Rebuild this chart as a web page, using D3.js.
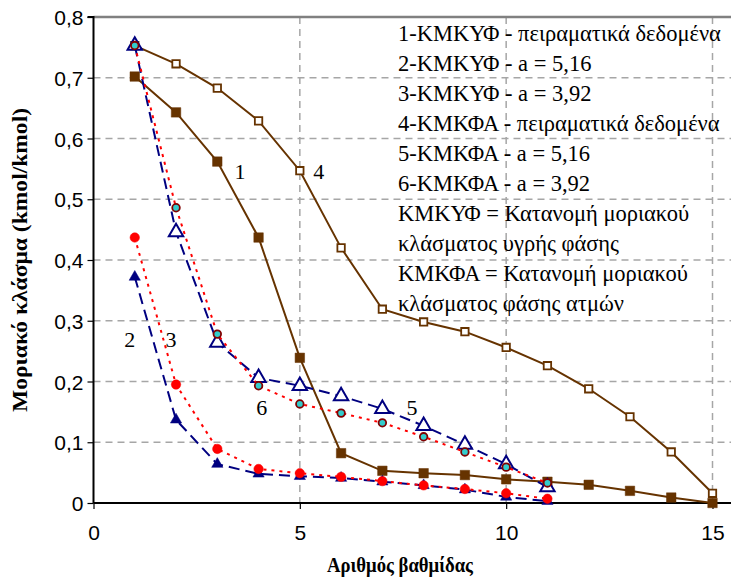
<!DOCTYPE html>
<html><head><meta charset="utf-8">
<script src="https://cdn.jsdelivr.net/npm/d3@7"></script>
<style>body{margin:0;background:#fff}</style>
</head><body>
<svg id="c" width="731" height="580"></svg>
<script>
const stages = [1,2,3,4,5,6,7,8,9,10,11,12,13,14,15];
const stages11 = [1,2,3,4,5,6,7,8,9,10,11];
const s1 = [0.702,0.643,0.562,0.437,0.239,0.082,0.053,0.049,0.046,0.039,0.035,0.030,0.020,0.009,0.000];
const s4 = [0.753,0.723,0.683,0.629,0.547,0.420,0.319,0.298,0.282,0.256,0.226,0.188,0.142,0.084,0.016];
const s2 = [0.372,0.137,0.064,0.048,0.044,0.041,0.035,0.029,0.022,0.010,0.003];
const s3 = [0.437,0.195,0.089,0.056,0.049,0.043,0.036,0.029,0.023,0.016,0.007];
const s5 = [0.753,0.446,0.264,0.206,0.193,0.176,0.155,0.127,0.096,0.064,0.026];
const s6 = [0.753,0.486,0.278,0.193,0.163,0.148,0.132,0.109,0.084,0.059,0.033];
const xTicks = [0,5,10,15];
const yTicks = [0,0.1,0.2,0.3,0.4,0.5,0.6,0.7,0.8];
const legendLines = [
 "1-ΚΜΚΥΦ - πειραματικά δεδομένα",
 "2-ΚΜΚΥΦ - a = 5,16",
 "3-ΚΜΚΥΦ - a = 3,92",
 "4-ΚΜΚΦΑ - πειραματικά δεδομένα",
 "5-ΚΜΚΦΑ - a = 5,16",
 "6-ΚΜΚΦΑ - a = 3,92",
 "ΚΜΚΥΦ = Κατανομή μοριακού",
 "κλάσματος υγρής φάσης",
 "ΚΜΚΦΑ = Κατανομή μοριακού",
 "κλάσματος φάσης ατμών"];
const curveLabels = [
 {t:"1", x:3.55, y:0.533},
 {t:"4", x:5.46, y:0.533},
 {t:"2", x:0.88, y:0.257},
 {t:"3", x:1.88, y:0.257},
 {t:"6", x:4.08, y:0.145},
 {t:"5", x:7.72, y:0.145}];

const svg = d3.select("#c");
const x = d3.scaleLinear().domain([0,15]).range([93.5,712.5]);
const y = d3.scaleLinear().domain([0,0.8]).range([503,17]);
const right = 731;
const serif = "'Liberation Serif','Times New Roman',serif";

// gridlines
const g = svg.append("g");
g.selectAll("line.hy").data(yTicks.filter(v=>v>0 && v<0.8)).join("line")
 .attr("x1",x(0)).attr("x2",right).attr("y1",d=>y(d)).attr("y2",d=>y(d))
 .attr("stroke","#a6a6a6").attr("stroke-width",1.5).attr("stroke-dasharray","7,5");
g.selectAll("line.vx").data(xTicks.filter(v=>v>0)).join("line")
 .attr("y1",y(0.8)).attr("y2",y(0)).attr("x1",d=>x(d)).attr("x2",d=>x(d))
 .attr("stroke","#a6a6a6").attr("stroke-width",1.5).attr("stroke-dasharray","7,5");
// top border
svg.append("line").attr("x1",x(0)).attr("x2",right).attr("y1",y(0.8)).attr("y2",y(0.8))
 .attr("stroke","#808080").attr("stroke-width",2.5);

// legend text
svg.append("g").selectAll("text").data(legendLines).join("text")
 .attr("x",398).attr("y",(d,i)=>40.5+i*30.1)
 .attr("font-family",serif).attr("font-size",22.5)
 .attr("fill","#000").text(d=>d);

// axes
const yAxis = d3.axisLeft(y).tickValues(yTicks).tickSize(6)
 .tickFormat(d=> d===0 ? "0" : d3.format(".1f")(d).replace(".",","));
const ya = svg.append("g").attr("transform",`translate(${x(0)},0)`).call(yAxis);
ya.select(".domain").attr("stroke","#000").attr("stroke-width",2).attr("d",`M-6,${y(0.8)}H0V${y(0)}`);
ya.selectAll(".tick line").attr("stroke","#000").attr("stroke-width",1.2);
ya.selectAll(".tick text").attr("font-family","'Liberation Sans',Arial,sans-serif").attr("font-size",21)
 .attr("fill","#000").attr("x",-10).attr("dy","0.36em");

const xAxis = d3.axisBottom(x).tickValues(xTicks).tickSize(6).tickFormat(d3.format("d"));
const xa = svg.append("g").attr("transform",`translate(0,${y(0)})`).call(xAxis);
xa.select(".domain").attr("stroke","#000").attr("stroke-width",2).attr("d",`M${x(0)},0H${right}`);
xa.selectAll(".tick line").attr("stroke","#000").attr("stroke-width",1.2);
xa.selectAll(".tick text").attr("font-family","'Liberation Sans',Arial,sans-serif").attr("font-size",21)
 .attr("fill","#000").attr("y",22).attr("dy","0.71em");

// axis titles
svg.append("text").attr("x",400).attr("y",572).attr("text-anchor","middle")
 .attr("font-family",serif).attr("font-weight","bold").attr("font-size",20)
 .attr("textLength",146).attr("lengthAdjust","spacingAndGlyphs")
 .text("Αριθμός βαθμίδας");
svg.append("text").attr("transform","translate(27,260) rotate(-90)").attr("text-anchor","middle")
 .attr("font-family",serif).attr("font-weight","bold").attr("font-size",21)
 .attr("textLength",304).attr("lengthAdjust","spacingAndGlyphs")
 .text("Μοριακό κλάσμα (kmol/kmol)");

const brown = "#663300", navy = "#000080", red = "#ff0000";
const line = d3.line().x(d=>x(d[0])).y(d=>y(d[1]));
function series(xs, ys, opt){
  const pts = xs.map((v,i)=>[v,ys[i]]);
  const gg = svg.append("g");
  gg.append("path").attr("d",line(pts)).attr("fill","none").attr("stroke",opt.color)
   .attr("stroke-width",opt.w||2).attr("stroke-dasharray",opt.dash||null);
  const sym = d3.symbol().type(opt.type).size(opt.size);
  gg.selectAll("path.m").data(pts).join("path").attr("class","m")
   .attr("transform",d=>`translate(${x(d[0])},${y(d[1])})`).attr("d",sym())
   .attr("fill",opt.fill).attr("stroke",opt.mstroke).attr("stroke-width",opt.mw||1);
}
series(stages, s1, {color:brown, type:d3.symbolSquare, size:90, fill:brown, mstroke:brown, mw:0.5});
series(stages, s4, {color:brown, type:d3.symbolSquare, size:55, fill:"#fff", mstroke:brown, mw:1.8});
series(stages11, s2, {color:navy, dash:"11,6", type:d3.symbolTriangle, size:55, fill:navy, mstroke:navy, mw:0.5});
series(stages11, s3, {color:red, dash:"3,5", type:d3.symbolCircle, size:70, fill:red, mstroke:red, mw:0.5});
series(stages11, s5, {color:navy, dash:"11,6", type:d3.symbolTriangle, size:90, fill:"#fff", mstroke:navy, mw:2});
series(stages11, s6, {color:red, dash:"3,5", type:d3.symbolCircle, size:45, fill:"#33cccc", mstroke:"#800000", mw:1.8});

// curve number labels
svg.append("g").selectAll("text").data(curveLabels).join("text")
 .attr("x",d=>x(d.x)).attr("y",d=>y(d.y)).attr("text-anchor","middle")
 .attr("font-family",serif).attr("font-size",22)
 .text(d=>d.t);
</script>
</body></html>
